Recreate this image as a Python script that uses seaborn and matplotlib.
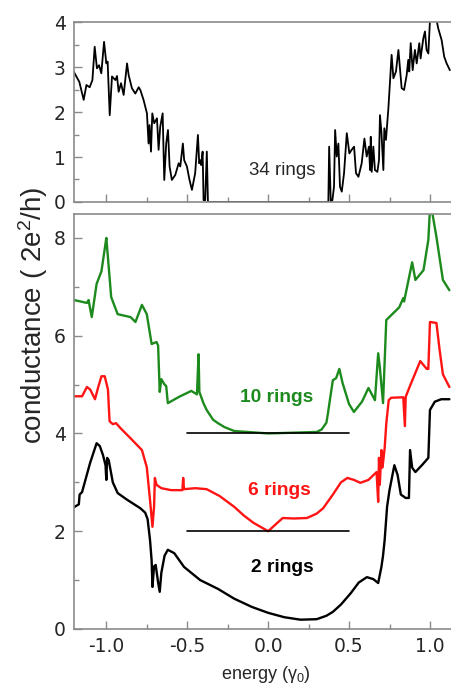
import numpy as np
import pandas as pd
import matplotlib
matplotlib.use("Agg")
import matplotlib.pyplot as plt
from matplotlib.ticker import MultipleLocator
import seaborn as sns

# ---- 34-ring tube (upper panel) ----
e34 = [-1.202, -1.167, -1.140, -1.123, -1.103, -1.086, -1.072, -1.058, -1.045, -1.031,
       -1.014, -1.000, -0.992, -0.979, -0.965, -0.944, -0.934, -0.924, -0.909, -0.893,
       -0.872, -0.862, -0.842, -0.821, -0.800, -0.790, -0.770, -0.749, -0.739, -0.733,
       -0.724, -0.716, -0.704, -0.687, -0.677, -0.667, -0.652, -0.642, -0.630, -0.619,
       -0.609, -0.595, -0.574, -0.553, -0.543, -0.527, -0.519, -0.502, -0.486, -0.471,
       -0.451, -0.434, -0.426, -0.420, -0.414, -0.405, -0.399, -0.389, -0.379, -0.372,
       0.362, 0.372, 0.377, 0.387, 0.397, 0.407, 0.414, 0.424, 0.434, 0.444,
       0.455, 0.469, 0.486, 0.502, 0.516, 0.531, 0.543, 0.558, 0.578, 0.595,
       0.609, 0.623, 0.630, 0.634, 0.640, 0.650, 0.660, 0.675, 0.685, 0.691,
       0.700, 0.712, 0.718, 0.728, 0.743, 0.763, 0.774, 0.790, 0.805, 0.825,
       0.840, 0.856, 0.866, 0.872, 0.881, 0.893, 0.907, 0.918, 0.934, 0.942,
       0.959, 0.969, 0.979, 0.990, 1.000, 1.041, 1.051, 1.072, 1.088, 1.103, 1.123]
g34 = [2.90, 2.67, 2.27, 2.60, 2.55, 2.71, 3.45, 2.97, 3.04, 2.86,
       3.56, 3.08, 3.12, 1.93, 2.79, 2.71, 2.80, 2.45, 2.64, 2.38,
       3.08, 2.82, 2.53, 2.41, 2.55, 2.49, 2.27, 1.97, 1.30, 1.71,
       1.12, 1.97, 1.75, 1.86, 1.16, 1.67, 1.97, 0.49, 1.30, 1.60,
       0.79, 0.49, 0.60, 0.86, 0.79, 1.30, 0.93, 0.79, 0.49, 0.27,
       0.64, 1.49, 0.86, 0.93, 0.82, 1.12, 0.04, 0.04, 1.12, 0.00,
       0.00, 0.00, 1.23, 0.00, 0.04, 0.34, 1.60, 1.01, 1.30, 0.34,
       0.23, 0.64, 1.53, 1.08, 1.16, 1.23, 0.64, 0.56, 0.86, 1.41,
       1.01, 1.23, 0.71, 1.45, 0.67, 1.23, 0.71, 0.67, 0.93, 1.93,
       1.56, 0.71, 1.64, 1.38, 2.08, 3.27, 2.75, 2.90, 3.38, 2.53,
       2.49, 2.82, 3.16, 2.90, 3.53, 2.93, 3.38, 3.08, 3.53, 3.19,
       3.64, 3.79, 3.38, 3.30, 4.04, 4.04, 3.86, 3.60, 3.23, 3.08, 2.93]

# ---- 10-ring tube ----
e10 = [-1.20, -1.12, -1.11, -1.09, -1.06, -1.03, -1.00, -0.995, -0.97, -0.93,
       -0.85, -0.82, -0.78, -0.75, -0.72, -0.69, -0.68, -0.67, -0.66, -0.64,
       -0.63, -0.62, -0.55, -0.475, -0.44, -0.43, -0.425, -0.40, -0.38, -0.36,
       -0.34, -0.31, -0.27, -0.21, 0.00, 0.30, 0.33, 0.36, 0.37, 0.38,
       0.40, 0.42, 0.44, 0.46, 0.50, 0.53, 0.58, 0.62, 0.66, 0.68,
       0.69, 0.71, 0.73, 0.81, 0.835, 0.84, 0.89, 0.91, 0.96, 0.99,
       1.00, 1.01, 1.04, 1.08, 1.12]
g10 = [6.73, 6.67, 6.73, 6.38, 7.06, 7.32, 8.00, 7.80, 6.79, 6.44,
       6.38, 6.28, 6.63, 6.44, 5.83, 5.87, 5.80, 4.85, 5.11, 5.00,
       4.97, 4.62, 4.75, 4.87, 4.80, 5.62, 4.85, 4.62, 4.48, 4.38,
       4.28, 4.21, 4.13, 4.05, 4.00, 4.03, 4.08, 4.22, 4.42, 4.65,
       5.09, 5.13, 5.32, 5.03, 4.60, 4.44, 4.65, 4.93, 4.68, 5.64,
       5.36, 4.62, 6.32, 6.58, 6.77, 6.70, 7.50, 7.14, 7.34, 7.96,
       8.60, 8.60, 8.02, 7.14, 6.93]

# ---- 6-ring tube ----
e6 = [-1.20, -1.15, -1.12, -1.10, -1.07, -1.05, -1.03, -1.01, -0.99, -0.98,
      -0.96, -0.94, -0.91, -0.85, -0.78, -0.75, -0.73, -0.715, -0.705, -0.70,
      -0.69, -0.66, -0.60, -0.53, -0.525, -0.52, -0.45, -0.38, -0.30, -0.21,
      -0.15, -0.09, 0.00, 0.04, 0.09, 0.16, 0.24, 0.30, 0.34, 0.40,
      0.45, 0.49, 0.53, 0.57, 0.62, 0.67, 0.68, 0.685, 0.69, 0.70,
      0.705, 0.71, 0.72, 0.73, 0.745, 0.76, 0.835, 0.845, 0.85, 0.88,
      0.94, 0.98, 0.99, 1.00, 1.04, 1.06, 1.08, 1.12]
g6 = [4.76, 4.76, 4.95, 4.90, 4.70, 4.95, 5.17, 5.17, 4.90, 4.25,
      4.19, 4.21, 4.10, 3.90, 3.66, 3.31, 2.64, 2.09, 2.50, 3.09,
      2.95, 2.88, 2.84, 2.84, 3.09, 2.86, 2.88, 2.86, 2.72, 2.50,
      2.32, 2.17, 2.00, 2.12, 2.27, 2.26, 2.27, 2.36, 2.47, 2.75,
      3.00, 3.09, 3.05, 2.99, 3.05, 3.21, 2.60, 3.50, 2.95, 3.66,
      3.30, 3.40, 3.70, 4.20, 4.68, 4.73, 4.74, 4.15, 4.75, 5.00,
      5.48, 5.32, 5.32, 6.28, 6.26, 5.70, 5.21, 4.95]

# ---- 2-ring tube ----
e2 = [-1.20, -1.17, -1.165, -1.15, -1.10, -1.06, -1.04, -1.02, -1.005, -1.00,
      -0.995, -0.985, -0.96, -0.93, -0.87, -0.79, -0.76, -0.745, -0.73, -0.72,
      -0.715, -0.705, -0.695, -0.68, -0.67, -0.66, -0.64, -0.62, -0.58, -0.52,
      -0.42, -0.31, -0.21, -0.10, 0.00, 0.10, 0.20, 0.30, 0.36, 0.40,
      0.45, 0.51, 0.56, 0.61, 0.65, 0.68, 0.70, 0.71, 0.72, 0.735,
      0.75, 0.78, 0.80, 0.82, 0.85, 0.87, 0.877, 0.89, 0.91, 0.95,
      0.99, 1.00, 1.03, 1.07, 1.12]
g2 = [2.49, 2.55, 2.75, 2.80, 3.40, 3.80, 3.74, 3.55, 3.35, 3.05,
      3.50, 3.45, 3.00, 2.78, 2.64, 2.47, 2.38, 2.25, 1.82, 1.40,
      0.86, 1.28, 1.31, 0.95, 0.76, 1.15, 1.50, 1.62, 1.55, 1.27,
      1.00, 0.82, 0.62, 0.45, 0.33, 0.24, 0.19, 0.20, 0.27, 0.35,
      0.50, 0.73, 0.95, 1.06, 1.02, 0.94, 1.27, 1.50, 1.82, 2.50,
      2.84, 3.35, 3.15, 2.75, 2.68, 2.68, 3.66, 3.30, 3.21, 3.35,
      3.50, 4.48, 4.65, 4.70, 4.70]

# reference levels and labels
ref_levels = [4, 2]
ref_span = [-0.5, 0.5]
labels = ["10 rings", "6 rings", "2 rings"]
xtick_vals = [-1.0, -0.5, 0.0, 0.5, 1.0]
xtick_text = ["-1.0", "-0.5", "0.0", "0.5", "1.0"]

sns.set_theme(style="ticks")
plt.rcParams["font.family"] = ["Liberation Sans", "DejaVu Sans"]
plt.rcParams["mathtext.fontset"] = "custom"
plt.rcParams["mathtext.rm"] = "Liberation Sans"
plt.rcParams["mathtext.it"] = "Liberation Sans:italic"

fig = plt.figure(figsize=(4.51, 6.88), dpi=100)
ax_top = fig.add_axes([0.164, 0.7064, 0.836, 0.2616])
ax_bot = fig.add_axes([0.164, 0.0858, 0.836, 0.6032])

green = "#1d8a1d"
red = "#ff1414"

df34 = pd.DataFrame({"energy": e34, "G": g34})
sns.lineplot(data=df34, x="energy", y="G", ax=ax_top, color="black",
             lw=1.3, estimator=None, sort=False)

curves = [(e10, g10, green), (e6, g6, red), (e2, g2, "black")]
for e, g, c in curves:
    d = pd.DataFrame({"energy": e, "G": g})
    sns.lineplot(data=d, x="energy", y="G", ax=ax_bot, color=c, lw=1.7,
                 estimator=None, sort=False)

for lvl in ref_levels:
    ax_bot.plot(ref_span, [lvl, lvl], color="black", lw=1.2)

ax_top.text(0.085, 0.71, "34 rings", ha="center", va="center", fontsize=13.5)
ax_bot.text(0.055, 4.74, labels[0], ha="center", va="center", fontsize=13.8,
            fontweight="bold", color=green)
ax_bot.text(0.07, 2.84, labels[1], ha="center", va="center", fontsize=13.8,
            fontweight="bold", color=red)
ax_bot.text(0.085, 1.25, labels[2], ha="center", va="center", fontsize=13.8,
            fontweight="bold", color="black")

spine_c = "#8a8a8a"
for ax in (ax_top, ax_bot):
    ax.set_xlim(-1.2, 1.13)
    ax.xaxis.set_major_locator(MultipleLocator(0.5))
    ax.xaxis.set_minor_locator(MultipleLocator(0.25))
    ax.spines["right"].set_visible(False)
    for s in ("left", "top", "bottom"):
        ax.spines[s].set_color(spine_c)
        ax.spines[s].set_linewidth(1.2)
    ax.tick_params(which="both", direction="in", color=spine_c, width=1.0,
                   labelsize=13.5, top=False, right=False, pad=6)
    ax.tick_params(which="major", length=6)
    ax.tick_params(which="minor", length=3.5)
    ax.set_xlabel("")
    ax.set_ylabel("")

ax_top.set_ylim(0, 4)
ax_top.yaxis.set_major_locator(MultipleLocator(1))
ax_top.yaxis.set_minor_locator(MultipleLocator(0.5))
ax_top.tick_params(axis="x", labelbottom=False)

ax_bot.set_ylim(0, 8.49)
ax_bot.yaxis.set_major_locator(MultipleLocator(2))
ax_bot.yaxis.set_minor_locator(MultipleLocator(1))
ax_bot.set_xticks(xtick_vals)
ax_bot.set_xticklabels(xtick_text)

for ax in (ax_top, ax_bot):
    for lab in ax.get_xticklabels() + ax.get_yticklabels():
        lab.set_fontfamily("DejaVu Sans")

fig.text(0.073, 0.542, r"conductance ( 2e$^2$/h)", rotation=90, ha="center",
         va="center", fontsize=20)
fig.text(0.59, 0.02, r"energy (γ$_0$)", ha="center", va="center",
         fontsize=13)

fig.savefig("out.png", dpi=100)
